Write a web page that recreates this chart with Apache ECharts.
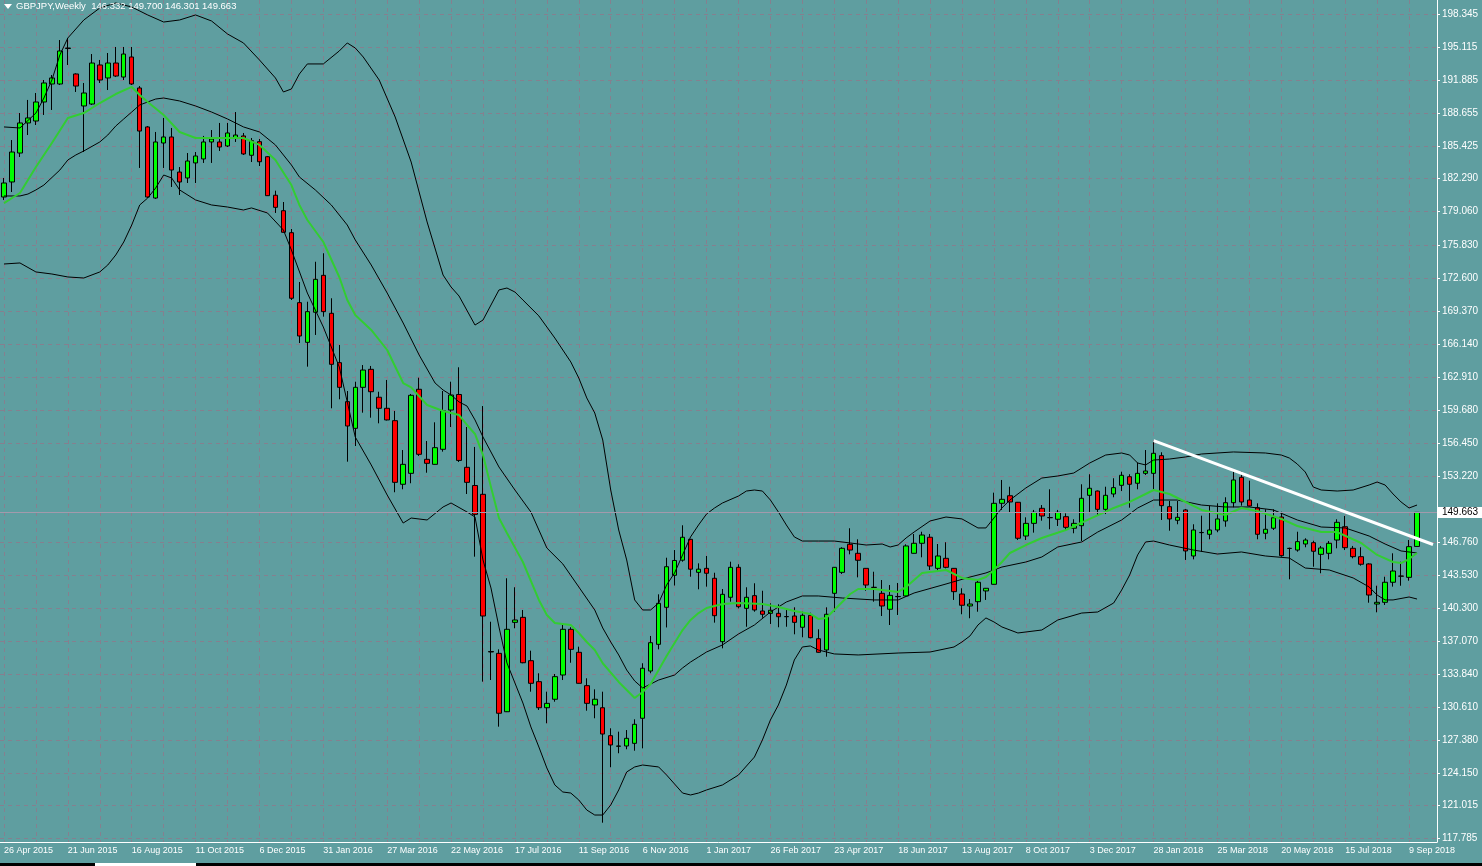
<!DOCTYPE html>
<html>
<head>
<meta charset="utf-8">
<title>GBPJPY Weekly</title>
<script src="https://cdn.jsdelivr.net/npm/echarts@6/dist/echarts.min.js"></script>
<style>
html, body { margin: 0; padding: 0; background: #5f9ea0; }
#main { width: 1482px; height: 866px; }
</style>
</head>
<body>
<div id="main"></div>
<script>
// weekly candles, index 0 = week of 26 Apr 2015
var open = [
  180.50,181.97,184.80,187.74,187.93,189.79,191.55,191.55,195.02,192.53,
  189.40,189.59,193.41,192.14,193.60,192.23,194.19,191.16,187.35,180.40,
  185.78,186.37,182.94,182.36,183.83,184.22,185.88,185.88,185.49,186.27,
  186.47,184.58,185.91,184.44,180.67,179.16,177.01,170.17,166.29,169.23,
  172.84,169.13,164.30,160.49,157.88,161.89,163.65,160.92,159.84,158.63,
  152.41,153.48,161.70,154.85,154.36,155.83,159.67,161.19,154.07,152.29,
  151.43,136.06,135.88,130.17,138.91,139.40,135.16,133.11,130.56,131.39,
  133.76,138.23,135.98,132.72,130.83,130.56,127.83,126.79,126.82,127.08,
  129.53,134.15,136.76,140.38,143.51,144.99,147.03,143.80,144.19,143.22,
  137.02,141.36,144.29,140.28,141.52,140.02,139.79,139.79,139.46,139.53,
  138.43,139.60,137.31,136.21,141.75,143.80,146.54,145.66,144.19,142.34,
  141.75,140.19,141.42,141.49,145.66,146.64,147.23,144.19,145.17,144.19,
  141.68,140.51,140.93,141.98,142.63,150.55,151.29,150.65,147.35,148.59,
  150.06,149.16,148.99,149.24,148.11,148.36,151.33,151.75,149.96,151.46,
  152.31,153.15,152.51,153.48,153.48,155.21,150.22,148.89,149.90,145.40,
  147.68,147.52,147.94,148.82,150.61,153.09,150.87,150.12,147.62,148.11,
  149.21,146.15,145.98,146.57,146.70,145.56,145.66,146.96,148.26,146.15,
  145.33,144.62,140.70,140.87,142.83,143.42,143.31,146.332
];
var high = [
  182.36,186.07,188.71,189.99,190.67,191.94,192.43,195.85,196.05,192.60,
  191.65,194.48,193.90,194.58,195.17,195.17,195.17,191.35,187.44,186.86,
  188.23,187.25,183.43,184.80,184.90,186.47,187.05,187.74,187.74,188.81,
  186.76,186.27,186.17,184.51,181.12,180.01,177.37,172.19,170.26,174.17,
  175.00,170.60,166.03,161.53,162.44,164.07,163.98,161.46,162.61,159.58,
  155.76,161.24,162.83,156.64,158.47,161.53,162.44,163.85,158.01,156.06,
  160.06,138.97,136.27,143.22,142.34,140.12,136.14,133.93,132.13,133.86,
  138.82,138.43,136.53,133.44,132.36,132.13,128.55,128.22,128.38,129.43,
  134.91,137.58,141.65,145.23,145.98,148.40,147.06,144.68,145.40,143.76,
  142.17,144.84,144.59,142.34,142.73,142.00,140.77,140.68,140.19,140.38,
  139.95,139.85,138.23,140.38,144.32,146.25,148.11,147.03,144.22,143.86,
  143.05,142.56,142.76,146.54,147.55,147.77,147.55,146.57,146.74,144.22,
  142.24,141.19,143.05,142.27,151.59,152.83,152.17,150.68,149.18,149.90,
  150.38,151.92,149.90,149.57,148.99,152.41,153.39,151.80,152.17,153.00,
  153.64,153.39,154.52,155.76,156.67,155.54,150.78,150.78,150.00,148.50,
  149.34,150.29,150.55,151.14,153.74,153.64,152.76,150.55,149.96,149.96,
  149.73,146.21,147.77,147.13,146.89,146.38,146.86,148.99,149.31,146.38,
  146.25,144.68,142.49,143.37,145.66,144.84,146.96,149.700
];
var low = [
  180.21,180.99,184.41,186.56,187.54,188.52,189.01,191.45,193.41,190.77,
  184.90,189.50,191.65,190.96,192.23,191.94,191.45,183.34,180.40,180.31,
  183.34,181.48,180.70,181.87,181.87,183.83,183.83,185.00,185.39,185.88,
  184.61,183.92,183.53,180.60,178.94,177.03,170.43,166.22,163.91,167.01,
  168.80,159.84,160.72,154.62,156.15,159.41,158.92,158.37,158.65,151.63,
  151.92,152.51,155.18,153.54,154.34,155.60,158.01,154.59,151.46,145.33,
  133.11,133.27,128.71,130.14,138.33,134.91,132.13,130.34,129.04,131.15,
  133.27,134.96,132.93,130.27,129.53,119.32,124.74,126.11,126.50,126.36,
  126.59,133.93,136.27,138.41,142.51,144.84,143.37,142.14,142.40,138.88,
  136.37,140.93,140.28,138.48,139.95,139.36,138.75,138.43,138.48,137.74,
  137.45,137.35,135.94,135.55,139.95,143.64,145.56,143.31,142.00,140.93,
  139.53,138.65,139.63,141.42,145.64,145.27,144.03,143.96,144.19,141.10,
  139.70,139.31,139.95,141.10,142.61,149.90,149.63,146.96,146.96,147.68,
  148.85,148.01,148.33,147.94,147.62,146.86,149.63,149.31,149.50,151.14,
  151.75,150.12,151.92,153.32,151.85,148.92,147.87,148.50,145.01,145.07,
  145.82,147.03,147.72,148.26,150.16,150.32,150.24,147.03,147.03,147.94,
  145.33,143.12,145.82,146.25,144.35,143.71,145.07,146.15,145.98,145.17,
  144.45,140.83,139.89,140.61,142.40,142.49,142.98,146.301
];
var close = [
  181.87,184.90,187.74,188.23,189.79,191.65,192.14,194.78,195.07,191.35,
  190.67,193.60,191.94,193.60,192.33,194.48,191.55,186.95,180.50,185.88,
  186.37,183.14,181.97,184.02,184.51,185.88,186.17,185.39,186.76,186.56,
  184.71,186.01,183.95,180.63,179.49,177.05,170.60,166.91,169.29,172.45,
  169.29,164.14,161.89,158.11,161.89,163.58,161.46,159.84,158.70,152.60,
  154.36,161.11,155.34,154.46,155.99,159.61,161.14,154.74,152.60,149.47,
  139.53,136.01,130.02,138.23,139.14,134.96,132.95,130.56,130.99,133.60,
  138.23,136.27,132.95,130.99,131.39,127.99,126.92,126.82,127.57,128.94,
  134.42,136.92,140.77,144.35,144.96,147.23,144.11,144.11,143.71,139.56,
  141.65,144.29,140.44,141.36,140.12,139.70,140.09,139.46,139.48,138.91,
  139.60,137.41,135.98,139.70,144.29,146.15,145.98,144.98,142.56,142.32,
  140.51,141.55,141.44,146.38,146.64,147.45,144.42,145.40,144.29,141.91,
  140.58,140.70,142.83,142.24,150.55,150.94,150.68,147.13,148.59,149.67,
  149.31,149.14,149.67,148.20,148.59,151.04,152.02,149.96,151.33,152.08,
  153.29,152.41,153.48,153.71,155.44,150.32,149.02,149.18,145.89,147.94,
  147.70,147.94,149.02,150.61,152.83,150.68,150.29,147.52,148.01,149.14,
  145.43,146.13,146.80,146.96,145.86,146.18,146.64,148.69,146.21,145.33,
  144.59,141.58,140.87,142.83,143.93,143.44,146.31,149.663
];

// indicator lines as [week index, price]
var upperBand = [[0,187.35],[2,187.25],[4,188.71],[5,190.18],[6,191.94],[7,194.39],[8,196.05],[10,197.81],[12,198.98],[14,199.47],[16,199.08],[18,198.30],[20,197.61],[22,197.81],[24,198.30],[26,197.71],[28,196.44],[30,195.56],[32,193.90],[34,192.14],[35,190.77],[36,191.06],[37,192.53],[38,193.51],[40,193.51],[42,194.78],[43,195.56],[44,195.07],[45,194.19],[47,191.94],[49,188.32],[51,183.92],[53,178.06],[55,172.87],[56,171.70],[57,170.82],[59,167.98],[60,168.47],[61,169.94],[62,171.41],[63,171.60],[64,171.21],[65,170.43],[67,168.87],[69,166.71],[71,164.37],[72,162.80],[73,160.85],[74,159.38],[75,156.74],[76,151.85],[77,147.94],[78,145.01],[79,141.10],[80,140.12],[81,140.12],[82,140.80],[83,142.56],[84,143.74],[85,145.50],[86,147.26],[87,148.43],[88,149.50],[89,150.09],[90,150.58],[92,151.26],[93,151.75],[94,151.85],[95,151.75],[96,150.87],[97,149.70],[98,148.43],[99,147.26],[100,146.86],[102,146.86],[104,146.86],[106,146.67],[108,146.47],[110,146.57],[111,146.28],[112,146.47],[113,147.16],[114,147.74],[116,148.82],[118,149.21],[120,149.02],[122,148.14],[123,148.14],[124,149.11],[125,150.09],[126,150.87],[128,152.05],[130,153.02],[132,153.22],[134,153.51],[136,154.49],[138,155.27],[140,155.47],[141,155.27],[142,154.49],[143,154.30],[144,154.78],[146,154.88],[148,155.08],[150,155.37],[154,155.57],[158,155.47],[160,155.27],[161,154.98],[162,154.39],[163,153.61],[164,152.14],[165,151.85],[167,151.75],[169,151.85],[171,152.34],[172,152.63],[173,152.34],[174,151.46],[175,150.68],[176,150.09],[177,150.38]];
var midBand = [[0,180.60],[2,180.60],[3,180.79],[4,181.19],[5,181.67],[7,183.14],[8,184.12],[9,184.61],[10,185.00],[12,185.88],[13,186.56],[14,187.44],[15,188.13],[16,188.81],[17,189.50],[19,190.08],[20,190.18],[22,189.89],[24,189.40],[26,188.81],[28,188.13],[30,187.35],[32,186.86],[34,185.59],[36,183.63],[37,182.46],[39,181.19],[41,179.72],[43,177.76],[44,176.30],[46,173.85],[48,171.11],[50,168.18],[52,165.05],[54,162.31],[55,161.63],[56,161.14],[57,160.46],[58,160.06],[59,158.70],[60,157.03],[62,154.10],[64,151.85],[66,149.70],[68,146.18],[70,144.62],[72,142.37],[74,140.12],[75,138.36],[76,136.99],[77,135.72],[78,134.25],[79,133.18],[80,132.49],[81,132.88],[82,133.27],[84,133.76],[85,134.45],[86,135.03],[87,135.52],[88,136.01],[90,136.70],[92,137.77],[94,138.65],[96,139.92],[98,140.90],[100,141.49],[102,141.49],[105,141.29],[109,141.10],[112,141.10],[114,141.78],[118,142.66],[121,143.34],[123,143.74],[125,144.32],[128,144.81],[130,145.30],[132,146.28],[135,146.77],[137,147.74],[140,148.92],[142,150.09],[144,150.87],[147,150.87],[150,150.38],[153,150.19],[156,150.19],[159,149.90],[162,148.92],[165,148.23],[168,148.14],[171,147.35],[173,146.57],[175,145.89],[177,145.69]];
var lowerBand = [[0,173.95],[2,174.05],[4,173.17],[6,172.97],[8,172.68],[10,172.58],[12,173.17],[13,173.85],[14,174.83],[15,176.10],[16,177.76],[17,179.72],[18,180.40],[19,181.38],[20,182.65],[21,182.36],[22,181.19],[24,180.21],[26,179.72],[28,179.52],[30,179.23],[31,179.43],[33,178.94],[35,177.27],[36,175.32],[38,171.11],[40,167.79],[42,163.88],[44,157.03],[46,154.30],[48,151.36],[50,148.62],[51,149.11],[53,148.92],[55,150.19],[56,150.58],[58,149.70],[59,149.21],[60,145.01],[61,142.27],[62,138.46],[63,134.94],[64,132.98],[65,131.02],[66,128.68],[67,126.72],[68,124.67],[69,123.01],[70,122.32],[71,122.22],[72,121.54],[73,120.56],[74,120.07],[75,120.07],[76,121.05],[77,122.52],[78,124.28],[79,124.77],[80,124.96],[82,124.77],[83,123.98],[84,123.10],[85,122.22],[86,122.03],[87,122.22],[88,122.52],[90,123.01],[92,123.98],[94,125.74],[95,127.41],[96,129.36],[97,130.83],[98,132.78],[99,135.23],[100,136.50],[101,136.60],[102,136.21],[104,135.82],[107,135.72],[112,135.91],[116,136.01],[119,136.50],[120,136.99],[121,137.58],[122,138.65],[123,139.34],[124,138.95],[125,138.46],[127,137.87],[130,138.16],[132,139.14],[135,139.82],[137,139.92],[139,140.80],[140,142.07],[141,143.54],[142,145.50],[143,146.77],[144,146.86],[146,146.47],[149,145.98],[152,145.59],[155,145.79],[158,145.40],[161,145.20],[163,144.22],[166,144.03],[169,143.25],[171,142.37],[172,141.58],[173,141.10],[174,141.10],[176,141.39],[177,141.19]];
var fastMA = [[0,179.91],[2,180.89],[4,183.43],[6,185.78],[8,188.23],[10,188.71],[12,189.69],[14,190.57],[16,191.26],[17,190.47],[18,189.79],[20,188.52],[22,186.86],[24,186.27],[28,186.27],[30,186.27],[32,185.59],[34,184.12],[36,181.67],[37,179.72],[38,178.25],[40,176.10],[42,172.68],[43,170.43],[44,168.96],[46,167.50],[48,165.54],[50,162.31],[51,161.89],[53,160.16],[55,159.58],[57,159.18],[58,158.21],[59,157.33],[60,155.27],[61,152.14],[62,149.11],[63,147.65],[65,144.81],[67,141.10],[68,139.63],[69,138.85],[71,138.65],[72,137.87],[73,136.99],[74,136.21],[75,134.91],[77,133.08],[79,131.51],[80,132.10],[81,132.88],[82,134.25],[83,135.62],[84,136.89],[85,138.16],[86,139.14],[87,139.82],[88,140.31],[90,140.70],[92,140.80],[95,140.70],[97,140.41],[99,140.02],[101,139.73],[102,139.24],[103,139.34],[104,140.12],[105,140.90],[106,141.68],[107,142.17],[109,142.17],[112,141.88],[113,142.37],[114,143.05],[115,143.74],[118,144.03],[120,143.25],[122,143.05],[123,143.34],[124,144.03],[125,144.81],[126,145.69],[128,146.47],[130,147.16],[133,147.94],[136,149.02],[139,150.09],[141,150.68],[143,151.46],[144,151.85],[146,151.46],[147,151.07],[150,149.90],[153,149.41],[155,150.09],[157,149.80],[160,149.02],[162,148.33],[165,147.74],[167,147.74],[170,146.67],[172,145.50],[174,144.81],[175,144.71],[176,145.10],[177,145.69]];

// hand drawn trend line (white)
var trendLine = [[144, 156.67], [179, 146.52]];

var yTicks = [117.785,121.015,124.150,127.380,130.610,133.840,137.070,140.300,143.530,146.760,
  149.990,153.220,156.450,159.680,162.910,166.140,169.370,172.600,175.830,179.060,
  182.290,185.425,188.655,191.885,195.115,198.345];
yTicks = yTicks.filter(function (v) { return v !== 149.990; }); // hidden by the price tag

var months = ['Jan','Feb','Mar','Apr','May','Jun','Jul','Aug','Sep','Oct','Nov','Dec'];
var weeks = [];
var t0 = Date.UTC(2015, 3, 26);
for (var i = 0; i < 180; i++) {
  var d = new Date(t0 + i * 7 * 86400000);
  weeks.push(d.getUTCDate() + ' ' + months[d.getUTCMonth()] + ' ' + d.getUTCFullYear());
}
// vertical grid every 4 weeks
var vGrid = [];
for (var g = 0; g < 180; g += 4) vGrid.push(g);

var candles = [];
for (var k = 0; k < open.length; k++) {
  candles.push([open[k], close[k], low[k], high[k]]);
}
var last = open.length - 1;
var gridColor = '#85808f';
var font = 'Liberation Sans';

var chart = echarts.init(document.getElementById('main'));
chart.setOption({
  backgroundColor: '#5f9ea0',
  animation: false,
  grid: { left: -3, right: 45, top: 0, bottom: 24 },
  xAxis: [{
    type: 'category',
    data: weeks,
    boundaryGap: true,
    axisLine: { onZero: false, lineStyle: { color: '#ffffff', width: 1 } },
    axisTick: { alignWithLabel: true, interval: 7, length: 4, lineStyle: { color: '#ffffff' } },
    axisLabel: { interval: 7, color: '#ffffff', fontFamily: font, fontSize: 9, align: 'left', margin: 4 },
    splitLine: { show: false }
  }, {
    // helper axis for the vertical dashed grid, centred on the candles
    type: 'value',
    position: 'top',
    min: -0.5,
    max: 179.5,
    axisLine: { show: false, onZero: false },
    axisLabel: { show: false },
    axisTick: { show: false, customValues: vGrid },
    splitLine: { show: true, lineStyle: { color: gridColor, type: [4, 4], width: 1 } }
  }],
  yAxis: {
    type: 'value',
    position: 'right',
    min: 117.432,
    max: 199.763,
    axisLine: { show: true, onZero: false, lineStyle: { color: '#ffffff' } },
    axisTick: { show: true, length: 3, customValues: yTicks, lineStyle: { color: '#ffffff' } },
    axisLabel: {
      customValues: yTicks, color: '#ffffff', fontFamily: font, fontSize: 10, margin: 5,
      formatter: function (v) { return v.toFixed(3); }
    },
    splitLine: { show: true, lineStyle: { color: gridColor, type: [4, 4], width: 1 } }
  },
  series: [
    {
      type: 'candlestick',
      data: candles,
      barWidth: 5,
      z: 2,
      itemStyle: { color: '#00ff00', color0: '#ff0000', borderColor: '#000000', borderColor0: '#000000', borderWidth: 1 },
      markLine: {
        silent: true,
        symbol: 'none',
        data: [{ yAxis: close[last] }],
        lineStyle: { color: '#a39aac', type: 'solid', width: 1 },
        label: {
          position: 'end', distance: 0, formatter: close[last].toFixed(3),
          backgroundColor: '#ffffff', color: '#000000', fontFamily: font, fontSize: 10,
          padding: [1, 5, 0, 5]
        }
      }
    },
    { type: 'line', data: upperBand, showSymbol: false, z: 3, lineStyle: { color: '#000000', width: 1 } },
    { type: 'line', data: midBand, showSymbol: false, z: 3, lineStyle: { color: '#000000', width: 1 } },
    { type: 'line', data: lowerBand, showSymbol: false, z: 3, lineStyle: { color: '#000000', width: 1 } },
    { type: 'line', data: fastMA, showSymbol: false, z: 4, lineStyle: { color: '#32cd32', width: 2 } },
    { type: 'line', data: trendLine, showSymbol: false, z: 5, lineStyle: { color: '#ffffff', width: 3 } }
  ],
  graphic: [
    { type: 'polygon', z: 100, shape: { points: [[4, 4], [12, 4], [8, 9]] }, style: { fill: '#ffffff' } },
    {
      type: 'text', z: 100, left: 16, top: 1,
      style: {
        text: 'GBPJPY,Weekly  ' + open[last].toFixed(3) + ' ' + high[last].toFixed(3) + ' ' +
          low[last].toFixed(3) + ' ' + close[last].toFixed(3),
        fill: '#ffffff', font: '9.5px "Liberation Sans"'
      }
    },
    { type: 'rect', z: 100, shape: { x: 0, y: 863, width: 1482, height: 3 }, style: { fill: '#000000' } },
    { type: 'rect', z: 100, shape: { x: 95, y: 863, width: 101, height: 3 }, style: { fill: '#ffffff' } }
  ]
});
</script>
</body>
</html>
